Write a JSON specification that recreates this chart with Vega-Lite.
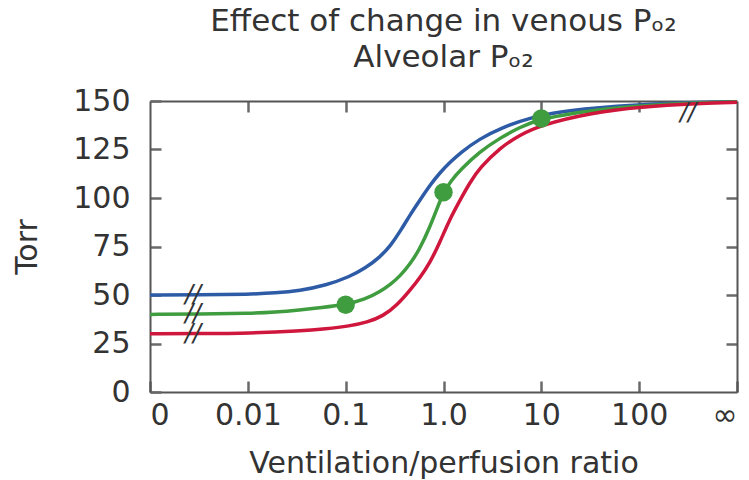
{
  "$schema": "https://vega.github.io/schema/vega-lite/v6.json",
  "width": 587,
  "height": 291,
  "autosize": {"type": "none"},
  "padding": {"left": 150, "top": 101, "right": 12, "bottom": 88},
  "background": "white",
  "config": {
    "view": {"stroke": null},
    "font": "DejaVu Sans",
    "axis": {
      "domainColor": "#555555",
      "domainWidth": 2,
      "grid": false,
      "labelFont": "DejaVu Sans",
      "labelFontSize": 30,
      "labelColor": "#333333",
      "titleFont": "DejaVu Sans",
      "titleFontSize": 30,
      "titleFontWeight": "normal",
      "titleColor": "#333333"
    }
  },
  "title": {
    "text": ["Effect of change in venous Pₒ₂", "Alveolar Pₒ₂"],
    "anchor": "middle",
    "frame": "group",
    "font": "DejaVu Sans",
    "fontSize": 31,
    "fontWeight": "normal",
    "color": "#333333",
    "lineHeight": 36,
    "offset": 12
  },
  "datasets": {
    "curves": [
      {"series": "high venous", "log_ratio": -3.0, "torr": 50.0},
      {"series": "high venous", "log_ratio": -2.49, "torr": 50.1},
      {"series": "high venous", "log_ratio": -1.98, "torr": 50.4},
      {"series": "high venous", "log_ratio": -1.72, "torr": 51.0},
      {"series": "high venous", "log_ratio": -1.47, "torr": 52.2},
      {"series": "high venous", "log_ratio": -1.2, "torr": 55.0},
      {"series": "high venous", "log_ratio": -0.96, "torr": 59.4},
      {"series": "high venous", "log_ratio": -0.8, "torr": 63.8},
      {"series": "high venous", "log_ratio": -0.65, "torr": 69.5},
      {"series": "high venous", "log_ratio": -0.54, "torr": 75.5},
      {"series": "high venous", "log_ratio": -0.44, "torr": 83.0},
      {"series": "high venous", "log_ratio": -0.34, "torr": 91.5},
      {"series": "high venous", "log_ratio": -0.24, "torr": 99.0},
      {"series": "high venous", "log_ratio": -0.14, "torr": 106.5},
      {"series": "high venous", "log_ratio": -0.04, "torr": 112.9},
      {"series": "high venous", "log_ratio": 0.07, "torr": 118.5},
      {"series": "high venous", "log_ratio": 0.17, "torr": 123.3},
      {"series": "high venous", "log_ratio": 0.37, "torr": 130.5},
      {"series": "high venous", "log_ratio": 0.58, "torr": 136.0},
      {"series": "high venous", "log_ratio": 0.91, "torr": 141.8},
      {"series": "high venous", "log_ratio": 1.2, "torr": 144.5},
      {"series": "high venous", "log_ratio": 1.5, "torr": 146.3},
      {"series": "high venous", "log_ratio": 2.01, "torr": 148.2},
      {"series": "high venous", "log_ratio": 2.62, "torr": 149.3},
      {"series": "high venous", "log_ratio": 3.0, "torr": 149.6},

      {"series": "normal venous", "log_ratio": -3.0, "torr": 40.0},
      {"series": "normal venous", "log_ratio": -2.49, "torr": 40.1},
      {"series": "normal venous", "log_ratio": -1.98, "torr": 40.5},
      {"series": "normal venous", "log_ratio": -1.72, "torr": 41.2},
      {"series": "normal venous", "log_ratio": -1.47, "torr": 42.3},
      {"series": "normal venous", "log_ratio": -1.25, "torr": 43.5},
      {"series": "normal venous", "log_ratio": -1.0, "torr": 45.0},
      {"series": "normal venous", "log_ratio": -0.8, "torr": 47.8},
      {"series": "normal venous", "log_ratio": -0.65, "torr": 51.7},
      {"series": "normal venous", "log_ratio": -0.54, "torr": 55.5},
      {"series": "normal venous", "log_ratio": -0.44, "torr": 60.0},
      {"series": "normal venous", "log_ratio": -0.34, "torr": 66.0},
      {"series": "normal venous", "log_ratio": -0.24, "torr": 74.0},
      {"series": "normal venous", "log_ratio": -0.14, "torr": 85.0},
      {"series": "normal venous", "log_ratio": -0.07, "torr": 94.0},
      {"series": "normal venous", "log_ratio": 0.0, "torr": 103.0},
      {"series": "normal venous", "log_ratio": 0.08, "torr": 109.0},
      {"series": "normal venous", "log_ratio": 0.17, "torr": 114.4},
      {"series": "normal venous", "log_ratio": 0.37, "torr": 123.9},
      {"series": "normal venous", "log_ratio": 0.58, "torr": 131.0},
      {"series": "normal venous", "log_ratio": 0.78, "torr": 136.5},
      {"series": "normal venous", "log_ratio": 1.0, "torr": 141.0},
      {"series": "normal venous", "log_ratio": 1.5, "torr": 145.2},
      {"series": "normal venous", "log_ratio": 2.01, "torr": 147.6},
      {"series": "normal venous", "log_ratio": 2.62, "torr": 149.2},
      {"series": "normal venous", "log_ratio": 3.0, "torr": 149.6},

      {"series": "low venous", "log_ratio": -3.0, "torr": 30.0},
      {"series": "low venous", "log_ratio": -2.49, "torr": 30.1},
      {"series": "low venous", "log_ratio": -1.98, "torr": 30.3},
      {"series": "low venous", "log_ratio": -1.47, "torr": 31.4},
      {"series": "low venous", "log_ratio": -1.2, "torr": 32.5},
      {"series": "low venous", "log_ratio": -0.96, "torr": 34.0},
      {"series": "low venous", "log_ratio": -0.78, "torr": 36.0},
      {"series": "low venous", "log_ratio": -0.62, "torr": 39.0},
      {"series": "low venous", "log_ratio": -0.47, "torr": 45.0},
      {"series": "low venous", "log_ratio": -0.34, "torr": 52.6},
      {"series": "low venous", "log_ratio": -0.24, "torr": 59.0},
      {"series": "low venous", "log_ratio": -0.14, "torr": 66.5},
      {"series": "low venous", "log_ratio": -0.04, "torr": 76.8},
      {"series": "low venous", "log_ratio": 0.06, "torr": 88.7},
      {"series": "low venous", "log_ratio": 0.17, "torr": 99.0},
      {"series": "low venous", "log_ratio": 0.27, "torr": 108.0},
      {"series": "low venous", "log_ratio": 0.37, "torr": 115.5},
      {"series": "low venous", "log_ratio": 0.58, "torr": 126.0},
      {"series": "low venous", "log_ratio": 0.78, "torr": 132.5},
      {"series": "low venous", "log_ratio": 0.99, "torr": 137.5},
      {"series": "low venous", "log_ratio": 1.5, "torr": 143.8},
      {"series": "low venous", "log_ratio": 2.01, "torr": 147.0},
      {"series": "low venous", "log_ratio": 2.62, "torr": 148.8},
      {"series": "low venous", "log_ratio": 3.0, "torr": 149.3}
    ],
    "markers": [
      {"series": "normal venous", "log_ratio": -1.0, "torr": 45.0},
      {"series": "normal venous", "log_ratio": 0.0, "torr": 103.0},
      {"series": "normal venous", "log_ratio": 1.0, "torr": 141.0}
    ],
    "breaks": [
      {"log_ratio": -2.56, "torr": 50.0, "symbol": "//"},
      {"log_ratio": -2.56, "torr": 40.0, "symbol": "//"},
      {"log_ratio": -2.56, "torr": 30.0, "symbol": "//"},
      {"log_ratio": 2.5, "torr": 144.0, "symbol": "//"}
    ]
  },
  "layer": [
    {
      "data": {"name": "curves"},
      "mark": {"type": "line", "strokeWidth": 3.5, "interpolate": "basis"},
      "encoding": {
        "x": {
          "field": "log_ratio",
          "type": "quantitative",
          "scale": {"domain": [-3, 3], "nice": false, "zero": false},
          "axis": {
            "orient": "bottom",
            "values": [-3, -2, -1, 0, 1, 2, 3],
            "ticks": true,
            "tickSize": -11,
            "tickWidth": 2.5,
            "tickColor": "dimgray",
            "labelExpr": "datum.value == -3 ? '0' : datum.value == -2 ? '0.01' : datum.value == -1 ? '0.1' : datum.value == 0 ? '1.0' : datum.value == 1 ? '10' : datum.value == 2 ? '100' : '∞'",
            "labelPadding": 19,
            "title": "Ventilation/perfusion ratio",
            "titlePadding": 18
          }
        },
        "y": {
          "field": "torr",
          "type": "quantitative",
          "scale": {"domain": [0, 150], "nice": false},
          "axis": {
            "orient": "left",
            "values": [0, 25, 50, 75, 100, 125, 150],
            "ticks": true,
            "tickSize": -11,
            "tickWidth": 2.5,
            "tickColor": "dimgray",
            "labelPadding": 31,
            "title": "Torr",
            "titlePadding": 30
          }
        },
        "stroke": {
          "field": "series",
          "type": "nominal",
          "scale": {
            "domain": ["high venous", "normal venous", "low venous"],
            "range": ["#2d5ba6", "#3f9c3f", "#cf163c"]
          },
          "legend": null
        }
      }
    },
    {
      "data": {"name": "markers"},
      "mark": {"type": "circle", "size": 340, "opacity": 1, "color": "#3f9c3f"},
      "encoding": {
        "x": {
          "field": "log_ratio",
          "type": "quantitative",
          "axis": {"orient": "top", "values": [-2, -1, 0, 1, 2], "labels": false, "ticks": true, "tickSize": -11, "tickWidth": 2.5, "tickColor": "dimgray", "title": null}
        },
        "y": {
          "field": "torr",
          "type": "quantitative",
          "axis": {"orient": "right", "values": [25, 50, 75, 100, 125], "labels": false, "ticks": true, "tickSize": -11, "tickWidth": 2.5, "tickColor": "dimgray", "title": null}
        }
      }
    },
    {
      "data": {"name": "breaks"},
      "mark": {"type": "text", "font": "DejaVu Sans", "fontSize": 24, "fontStyle": "italic", "color": "#333333"},
      "encoding": {
        "x": {"field": "log_ratio", "type": "quantitative", "axis": null},
        "y": {"field": "torr", "type": "quantitative", "axis": null},
        "text": {"field": "symbol"}
      }
    }
  ]
}
